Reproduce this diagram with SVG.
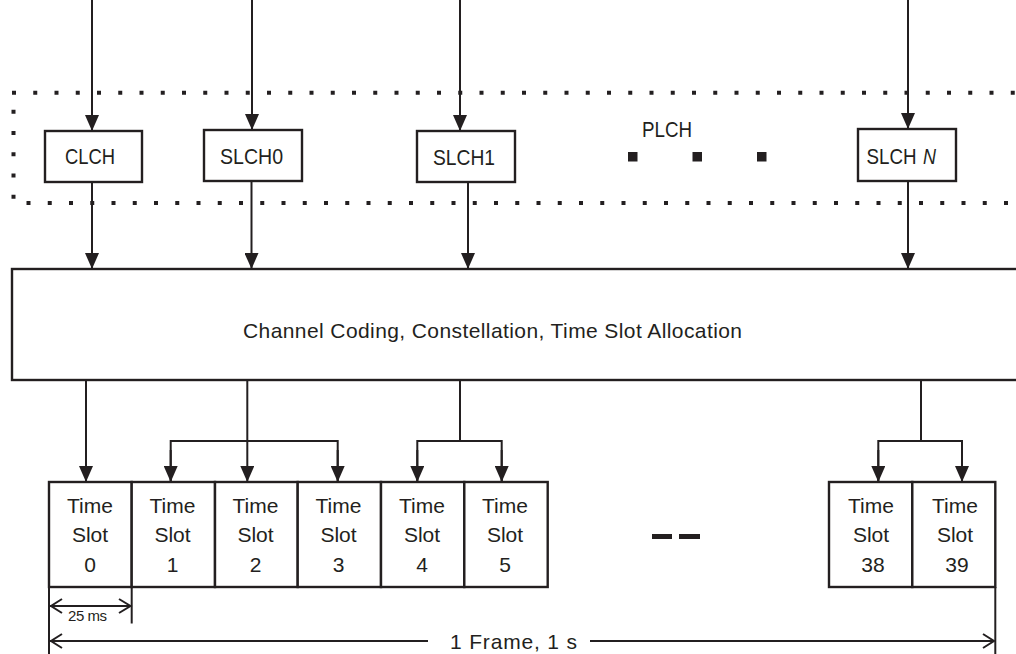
<svg xmlns="http://www.w3.org/2000/svg" width="1016" height="654" viewBox="0 0 1016 654">
<style>
  .ln{stroke:#231f20;stroke-width:2;fill:none}
  .box{stroke:#231f20;stroke-width:2.4;fill:#fff}
  .dot{stroke:#231f20;stroke-width:4;stroke-dasharray:4 17.25;fill:none}
  .t{font-family:"Liberation Sans",Arial,sans-serif;fill:#231f20;text-anchor:middle}
  .lbl{font-size:21.5px}
  .slot{font-size:21px}
</style>
<defs>
  <marker id="ah2" markerUnits="userSpaceOnUse" markerWidth="16" markerHeight="14" viewBox="0 0 16 14" refX="16" refY="7" orient="auto">
    <path d="M0,0 L16,7 L0,14 Z" fill="#231f20"/>
  </marker>
</defs>

<g id="plch-region">
  <line class="dot" x1="12" y1="92.7" x2="1016" y2="92.7"/>
  <line class="dot" x1="13.5" y1="109.7" x2="13.5" y2="200"/>
  <line class="dot" x1="26.5" y1="203" x2="1016" y2="203"/>
  <text class="t lbl" x="667" y="137" textLength="50" lengthAdjust="spacingAndGlyphs">PLCH</text>
  <rect x="628" y="152" width="9.5" height="9.5" fill="#231f20"/>
  <rect x="692.5" y="152" width="9.5" height="9.5" fill="#231f20"/>
  <rect x="757" y="152" width="9.5" height="9.5" fill="#231f20"/>
</g>

<g id="connectors">
  <line class="ln" x1="92" y1="0" x2="92" y2="131" marker-end="url(#ah2)"/>
  <line class="ln" x1="252" y1="0" x2="252" y2="130" marker-end="url(#ah2)"/>
  <line class="ln" x1="460" y1="0" x2="460" y2="131" marker-end="url(#ah2)"/>
  <line class="ln" x1="908" y1="0" x2="908" y2="129" marker-end="url(#ah2)"/>

  <line class="ln" x1="92" y1="182" x2="92" y2="269" marker-end="url(#ah2)"/>
  <line class="ln" x1="251.5" y1="182" x2="251.5" y2="269" marker-end="url(#ah2)"/>
  <line class="ln" x1="468" y1="182" x2="468" y2="269" marker-end="url(#ah2)"/>
  <line class="ln" x1="908" y1="182" x2="908" y2="269" marker-end="url(#ah2)"/>

  <line class="ln" x1="86" y1="380" x2="86" y2="482" marker-end="url(#ah2)"/>
  <line class="ln" x1="247.3" y1="380" x2="247.3" y2="482" marker-end="url(#ah2)"/>
  <path class="ln" d="M170.7,482 V441 H337.7 V482" />
  <line class="ln" x1="170.7" y1="450" x2="170.7" y2="482" marker-end="url(#ah2)"/>
  <line class="ln" x1="337.7" y1="450" x2="337.7" y2="482" marker-end="url(#ah2)"/>

  <line class="ln" x1="460" y1="380" x2="460" y2="441"/>
  <path class="ln" d="M417.3,482 V441 H501.7 V482"/>
  <line class="ln" x1="417.3" y1="450" x2="417.3" y2="482" marker-end="url(#ah2)"/>
  <line class="ln" x1="501.7" y1="450" x2="501.7" y2="482" marker-end="url(#ah2)"/>

  <line class="ln" x1="921" y1="380" x2="921" y2="441"/>
  <path class="ln" d="M878.3,482 V441 H962 V482"/>
  <line class="ln" x1="878.3" y1="450" x2="878.3" y2="482" marker-end="url(#ah2)"/>
  <line class="ln" x1="962" y1="450" x2="962" y2="482" marker-end="url(#ah2)"/>
</g>

<g id="clch">
  <rect class="box" x="45" y="131" width="97" height="51"/>
  <text class="t lbl" x="90" y="163.5" textLength="50" lengthAdjust="spacingAndGlyphs">CLCH</text>
</g>
<g id="slch0">
  <rect class="box" x="204" y="130" width="98" height="51"/>
  <text class="t lbl" x="251.5" y="163.5" textLength="63" lengthAdjust="spacingAndGlyphs">SLCH0</text>
</g>
<g id="slch1">
  <rect class="box" x="417" y="131" width="98" height="51"/>
  <text class="t lbl" x="464" y="165" textLength="62" lengthAdjust="spacingAndGlyphs">SLCH1</text>
</g>
<g id="slchn">
  <rect class="box" x="858" y="129" width="98" height="52"/>
  <text class="t lbl" x="891.5" y="164" textLength="50" lengthAdjust="spacingAndGlyphs">SLCH</text>
  <text class="t lbl" x="929.5" y="164" font-style="italic" textLength="13" lengthAdjust="spacingAndGlyphs">N</text>
</g>

<g id="main">
  <rect class="box" x="12" y="269" width="1014" height="111"/>
  <text class="t" font-size="21" x="492.5" y="338" textLength="499">Channel Coding, Constellation, Time Slot Allocation</text>
</g>

<g id="slot0"><rect class="box" x="49" y="482" width="82.7" height="105"/>
  <text class="t slot" x="90" y="513">Time</text><text class="t slot" x="90" y="542">Slot</text><text class="t slot" x="90" y="571.5">0</text></g>
<g id="slot1"><rect class="box" x="131.7" y="482" width="83.3" height="105"/>
  <text class="t slot" x="172.5" y="513">Time</text><text class="t slot" x="172.5" y="542">Slot</text><text class="t slot" x="172.5" y="571.5">1</text></g>
<g id="slot2"><rect class="box" x="215" y="482" width="82.7" height="105"/>
  <text class="t slot" x="255.5" y="513">Time</text><text class="t slot" x="255.5" y="542">Slot</text><text class="t slot" x="255.5" y="571.5">2</text></g>
<g id="slot3"><rect class="box" x="297.7" y="482" width="83.3" height="105"/>
  <text class="t slot" x="338.5" y="513">Time</text><text class="t slot" x="338.5" y="542">Slot</text><text class="t slot" x="338.5" y="571.5">3</text></g>
<g id="slot4"><rect class="box" x="381" y="482" width="83.3" height="105"/>
  <text class="t slot" x="422" y="513">Time</text><text class="t slot" x="422" y="542">Slot</text><text class="t slot" x="422" y="571.5">4</text></g>
<g id="slot5"><rect class="box" x="464.3" y="482" width="83.4" height="105"/>
  <text class="t slot" x="505" y="513">Time</text><text class="t slot" x="505" y="542">Slot</text><text class="t slot" x="505" y="571.5">5</text></g>
<g id="ellipsis">
  <rect x="652" y="534" width="20" height="5" fill="#231f20"/>
  <rect x="679" y="534" width="21" height="5" fill="#231f20"/>
</g>
<g id="slot38"><rect class="box" x="829" y="482" width="83.3" height="105"/>
  <text class="t slot" x="871" y="513">Time</text><text class="t slot" x="871" y="542">Slot</text><text class="t slot" x="873" y="571.5">38</text></g>
<g id="slot39"><rect class="box" x="912.3" y="482" width="83" height="105"/>
  <text class="t slot" x="955" y="513">Time</text><text class="t slot" x="955" y="542">Slot</text><text class="t slot" x="957" y="571.5">39</text></g>

<g id="dimensions">
  <line class="ln" x1="49" y1="587" x2="49" y2="654"/>
  <line class="ln" x1="131.7" y1="587" x2="131.7" y2="623.5"/>
  <line class="ln" x1="995.3" y1="587" x2="995.3" y2="654"/>
  <line class="ln" x1="50" y1="606" x2="130.5" y2="606"/>
  <path class="ln" d="M62,599 L51,606 L62,613 M119,599 L130.5,606 L119,613"/>
  <text class="t" font-size="15" x="87.5" y="620.5" textLength="39">25 ms</text>
  <line class="ln" x1="50" y1="641" x2="428" y2="641"/>
  <line class="ln" x1="590" y1="641" x2="994" y2="641"/>
  <path class="ln" d="M62,634 L51,641 L62,648 M983,634 L994,641 L983,648"/>
  <text class="t" font-size="21" x="513.5" y="648.5" textLength="127">1 Frame, 1 s</text>
</g>
</svg>
